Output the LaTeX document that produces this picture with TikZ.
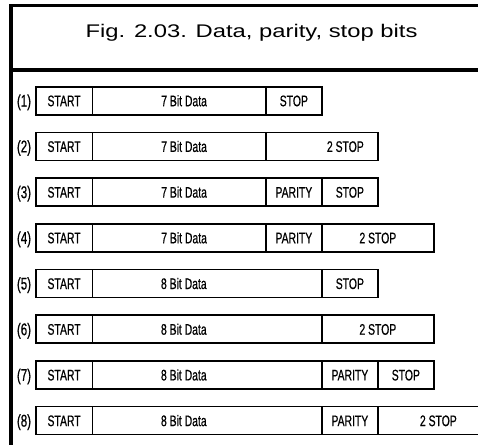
\documentclass[tikz,border=0pt]{standalone}
\usepackage{fontspec}
\setmainfont{Liberation Sans}
\newfontfamily\narrowfont[FakeStretch=0.68,FakeBold=0.6]{Liberation Sans}
\newfontfamily\widefont[FakeStretch=1.3]{Liberation Sans}

\tikzset{
	frameline/.style={line width=3.3pt},
	bitbox/.style={draw,line width=1.7pt,anchor=west,minimum height=28pt,inner sep=0pt,
		font=\narrowfont\fontsize{15.3}{16}\selectfont,text height=11pt,text depth=0pt},
	rowlabel/.style={anchor=base,inner sep=0pt,font=\narrowfont\fontsize{17}{18}\selectfont}
}

\begin{document}
\begin{tikzpicture}[x=1pt,y=-1pt]
	\clip (0,0) rectangle (478,445);

	% frame and title
	\draw[frameline] (478,5.7) -- (11,5.7) -- (11,445);
	\draw[frameline] (11,70) -- (478,70);
	\node[anchor=base,inner sep=0pt,font=\widefont\fontsize{18.3}{19}\selectfont] (title) at (251.5,37.8) {Fig. 2.03. Data, parity, stop bits};

	% row numbers
	\foreach \i in {1,...,8}
		\node[rowlabel] (lab\i) at (24,{100.7+45.7*(\i-1)+6}) {(\i)};

	% (1)
	\node[bitbox,minimum width=56.5pt] (r1start) at (35,100.7) {START};
	\node[bitbox,minimum width=173.5pt] (r1data) at (91.5,100.7) {\hspace*{10pt}7 Bit Data};
	\node[bitbox,minimum width=56pt] (r1stop) at (265,100.7) {STOP};

	% (2)
	\node[bitbox,minimum width=56.5pt] (r2start) at (35,146.4) {START};
	\node[bitbox,minimum width=173.5pt] (r2data) at (91.5,146.4) {\hspace*{10pt}7 Bit Data};
	\node[bitbox,minimum width=112pt] (r2stop) at (265,146.4) {\hspace*{47pt}2 STOP};

	% (3)
	\node[bitbox,minimum width=56.5pt] (r3start) at (35,192.1) {START};
	\node[bitbox,minimum width=173.5pt] (r3data) at (91.5,192.1) {\hspace*{10pt}7 Bit Data};
	\node[bitbox,minimum width=56pt] (r3par) at (265,192.1) {PARITY};
	\node[bitbox,minimum width=56pt] (r3stop) at (321,192.1) {STOP};

	% (4)
	\node[bitbox,minimum width=56.5pt] (r4start) at (35,237.8) {START};
	\node[bitbox,minimum width=173.5pt] (r4data) at (91.5,237.8) {\hspace*{10pt}7 Bit Data};
	\node[bitbox,minimum width=56pt] (r4par) at (265,237.8) {PARITY};
	\node[bitbox,minimum width=112pt] (r4stop) at (321,237.8) {2 STOP};

	% (5)
	\node[bitbox,minimum width=56.5pt] (r5start) at (35,283.5) {START};
	\node[bitbox,minimum width=229.5pt] (r5data) at (91.5,283.5) {8 Bit Data\hspace*{46.5pt}};
	\node[bitbox,minimum width=56pt] (r5stop) at (321,283.5) {STOP};

	% (6)
	\node[bitbox,minimum width=56.5pt] (r6start) at (35,329.2) {START};
	\node[bitbox,minimum width=229.5pt] (r6data) at (91.5,329.2) {8 Bit Data\hspace*{46.5pt}};
	\node[bitbox,minimum width=112pt] (r6stop) at (321,329.2) {2 STOP};

	% (7)
	\node[bitbox,minimum width=56.5pt] (r7start) at (35,374.9) {START};
	\node[bitbox,minimum width=229.5pt] (r7data) at (91.5,374.9) {8 Bit Data\hspace*{46.5pt}};
	\node[bitbox,minimum width=56pt] (r7par) at (321,374.9) {PARITY};
	\node[bitbox,minimum width=56pt] (r7stop) at (377,374.9) {STOP};

	% (8)
	\node[bitbox,minimum width=56.5pt] (r8start) at (35,420.6) {START};
	\node[bitbox,minimum width=229.5pt] (r8data) at (91.5,420.6) {8 Bit Data\hspace*{46.5pt}};
	\node[bitbox,minimum width=56pt] (r8par) at (321,420.6) {PARITY};
	\node[bitbox,minimum width=112pt] (r8stop) at (377,420.6) {\hspace*{9pt}2 STOP};
\end{tikzpicture}
\end{document}
